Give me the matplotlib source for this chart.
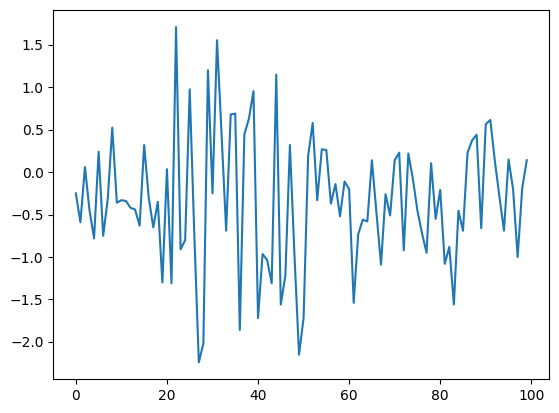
import matplotlib
matplotlib.use("Agg")
import matplotlib.pyplot as plt
import numpy as np

x = list(range(100))
values = [
    -0.25, -0.59, 0.06, -0.45, -0.78, 0.24, -0.75, -0.32, 0.525, -0.36,
    -0.33, -0.34, -0.42, -0.44, -0.63, 0.32, -0.30, -0.65, -0.35, -1.30,
    0.035, -1.31, 1.71, -0.91, -0.80, 0.975, -0.72, -2.24, -2.02, 1.20,
    -0.25, 1.555, 0.44, -0.69, 0.68, 0.69, -1.86, 0.445, 0.63, 0.955,
    -1.72, -0.965, -1.035, -1.31, 1.15, -1.56, -1.22, 0.32, -0.98, -2.15,
    -1.72, 0.19, 0.58, -0.33, 0.27, 0.26, -0.37, -0.14, -0.52, -0.11,
    -0.20, -1.54, -0.73, -0.56, -0.58, 0.14, -0.48, -1.09, -0.26, -0.51,
    0.14, 0.23, -0.92, 0.22, -0.08, -0.455, -0.72, -0.95, 0.105, -0.55,
    -0.21, -1.08, -0.88, -1.56, -0.455, -0.69, 0.23, 0.375, 0.44, -0.66,
    0.565, 0.615, 0.13, -0.29, -0.69, 0.15, -0.20, -1.00, -0.19, 0.14,
]

fig = plt.figure(figsize=(5.59, 4.13), dpi=100)
fig.subplots_adjust(left=53.3 / 559, right=549.3 / 559,
                    bottom=(413 - 379) / 413, top=(413 - 10.3) / 413)
ax = fig.add_subplot(111)
ax.plot(x, values, color="#1f77b4", linewidth=1.5)
fig.savefig("out.png", dpi=100)
